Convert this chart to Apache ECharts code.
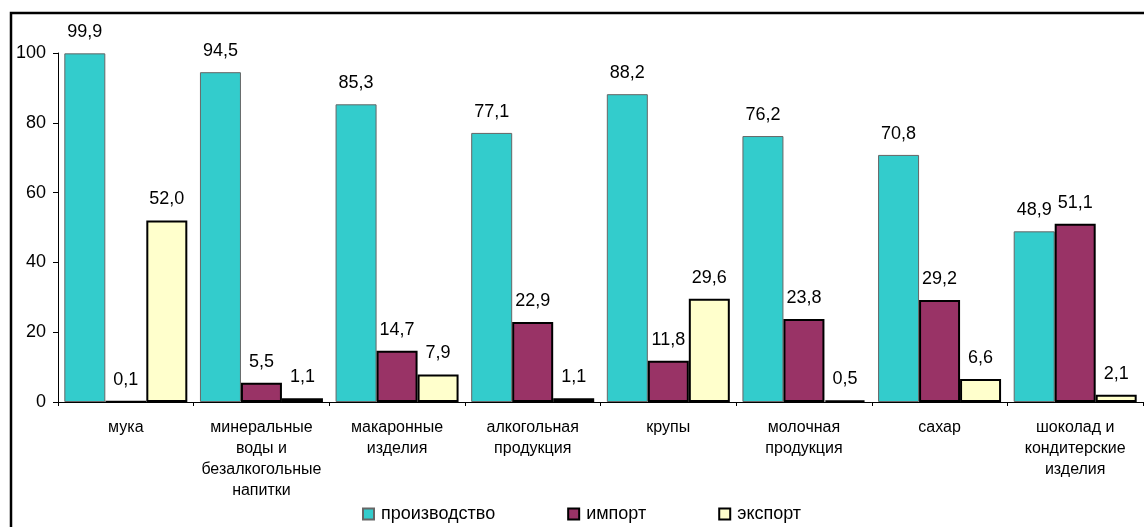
<!DOCTYPE html>
<html>
<head>
<meta charset="utf-8">
<script src="https://cdn.jsdelivr.net/npm/echarts@6/dist/echarts.min.js"></script>
<style>
  html, body { margin: 0; padding: 0; background: #fff; }
  #chart { width: 1144px; height: 527px; }
</style>
</head>
<body>
<div id="chart"></div>
<script>
var categories = ['мука', 'минеральные\nводы и\nбезалкогольные\nнапитки', 'макаронные\nизделия',
    'алкогольная\nпродукция', 'крупы', 'молочная\nпродукция', 'сахар', 'шоколад и\nкондитерские\nизделия'];
var production = [99.9, 94.5, 85.3, 77.1, 88.2, 76.2, 70.8, 48.9];
var imports = [0.1, 5.5, 14.7, 22.9, 11.8, 23.8, 29.2, 51.1];
var exports = [52.0, 1.1, 7.9, 1.1, 29.6, 0.5, 6.6, 2.1];
var seriesNames = ['производство', 'импорт', 'экспорт'];

var mychart = echarts.init(document.getElementById('chart'));

function fmt(p) {
    return p.value.toFixed(1).replace('.', ',');
}

var labelStyle = {
    show: true,
    position: 'top',
    distance: 12,
    color: '#000',
    fontSize: 18,
    fontFamily: 'Liberation Sans, Arial',
    formatter: fmt
};

option = {
    animation: false,
    textStyle: { fontFamily: 'Liberation Sans, Arial' },
    grid: {
        left: 58,
        right: 1,
        top: 53,
        bottom: 125
    },
    legend: {
        data: seriesNames,
        left: 362,
        top: 505,
        padding: 0,
        itemWidth: 11,
        itemHeight: 11,
        itemGap: 72,
        icon: 'rect',
        textStyle: { fontSize: 18, color: '#000', fontFamily: 'Liberation Sans, Arial', padding: [0, 0, 0, 2] }
    },
    xAxis: {
        type: 'category',
        data: categories,
        axisLine: { lineStyle: { color: '#000', width: 1 } },
        axisTick: { show: true, length: 4, lineStyle: { color: '#000' } },
        axisLabel: {
            color: '#000',
            fontSize: 16,
            lineHeight: 21,
            margin: 15,
            interval: 0,
            fontFamily: 'Liberation Sans, Arial'
        }
    },
    yAxis: {
        type: 'value',
        min: 0,
        max: 100,
        interval: 20,
        splitLine: { show: false },
        axisLine: { show: true, lineStyle: { color: '#000', width: 1 } },
        axisTick: { show: true, length: 5, lineStyle: { color: '#000' } },
        axisLabel: { color: '#000', fontSize: 18, margin: 12, fontFamily: 'Liberation Sans, Arial' }
    },
    graphic: [{
        type: 'rect',
        shape: { x: 11, y: 13, width: 1300, height: 700 },
        style: { fill: 'none', stroke: '#000', lineWidth: 2.5 },
        silent: true
    }],
    series: [
        {
            name: seriesNames[0],
            type: 'bar',
            data: production,
            barWidth: 41,
            barGap: '0%',
            itemStyle: { color: '#33CCCC', borderColor: '#666', borderWidth: 1 },
            label: labelStyle
        },
        {
            name: seriesNames[1],
            type: 'bar',
            data: imports,
            barWidth: 41,
            barGap: '0%',
            itemStyle: { color: '#993366', borderColor: '#000', borderWidth: 2 },
            label: labelStyle
        },
        {
            name: seriesNames[2],
            type: 'bar',
            data: exports,
            barWidth: 41,
            barGap: '0%',
            itemStyle: { color: '#FFFFCC', borderColor: '#000', borderWidth: 2 },
            label: labelStyle
        }
    ]
};
mychart.setOption(option);
</script>
</body>
</html>
